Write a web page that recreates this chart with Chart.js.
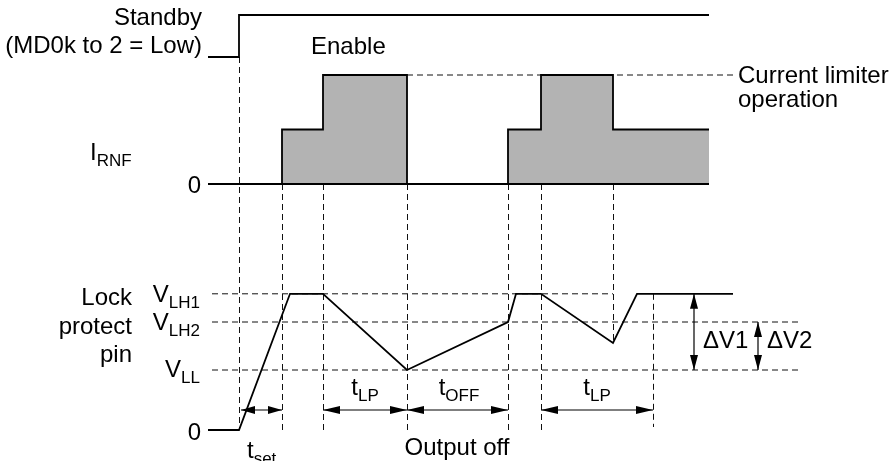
<!DOCTYPE html>
<html>
<head>
<meta charset="utf-8">
<script src="https://cdn.jsdelivr.net/npm/chart.js@4.4.0/dist/chart.umd.min.js"></script>
<style>
    html, body { margin: 0; padding: 0; background: #fff; }
    #wrap { width: 892px; height: 461px; }
</style>
</head>
<body>
<div id="wrap"><canvas id="timing" width="892" height="461"></canvas></div>
<script>
// Levels
const VLH1 = 2.27;
const VLH2 = 1.8;
const VLL = 1.0;
const I_STEP = 0.5;
const I_LIMIT = 1.0;

// Standby signal (time, level)
const standbyT = [-31, 0, 0, 470];
const standbyLevel = [0, 0, 1, 1];

// I_RNF current (stepped, value starts at its time)
const irnfT = [-31, 43, 84, 168, 269, 302, 374, 470];
const irnfLevel = [0, I_STEP, I_LIMIT, 0, I_STEP, I_LIMIT, I_STEP, I_STEP];

// Lock protect pin voltage
const lockT = [-31, 0, 51, 84, 168, 269, 277, 302, 374, 398, 494];
const lockV = [0, 0, VLH1, VLH1, VLL, VLH2, VLH1, VLH1, 1.45, VLH1, VLH1];

// Dashed reference levels on lock pin
const refLevels = [VLH1, VLH2, VLL];
const refStart = [-27, -27, -27];
const refEnd = [374, 559, 559];

// Current limiter dashed level
const limitT = [168, 496];

// Vertical guide lines: time, top [axis, value], bottom [axis, value]
const guideT = [0, 43, 84, 168, 269, 302, 374, 414];
const guideTop = [['ySb', 0], ['yI', 0], ['yI', 0], ['yI', 0], ['yI', 0], ['yI', 0], ['yI', 0], ['yV', VLH1]];
const guideBottom = [['yV', 0], ['yV', 0], ['yV', 0], ['yV', 0], ['yV', 0], ['yV', 0], ['yV', 1.45], ['yV', 0.05]];

// Time interval arrows
const spanFrom = [2, 84, 168, 302];
const spanTo = [43, 168, 269, 414];
const spanLevel = 0.333;

// Voltage difference arrows
const deltaT = [455, 519];
const deltaLow = [VLL, VLL];
const deltaHigh = [VLH1, VLH2];

const W = 892, H = 461;
const FONT = '"Liberation Sans", Arial, Helvetica, sans-serif';

function rowRange(zeroPx, pxPerUnit) {
    return { min: -(H - zeroPx) / pxPerUnit, max: zeroPx / pxPerUnit };
}

function pts(xs, ys) {
    return xs.map((x, i) => ({ x: x, y: ys[i] }));
}

const labels = [
    { text: 'Standby', t: -37, axis: 'ySb', v: 0.762, align: 'right' },
    { text: '(MD0k to 2 = Low)', t: -37, axis: 'ySb', v: 0.095, align: 'right' },
    { text: 'Enable', t: 72, axis: 'ySb', v: 0.071, align: 'left' },
    { text: 'Current limiter', t: 499, axis: 'yI', v: 0.927, align: 'left' },
    { text: 'operation', t: 499, axis: 'yI', v: 0.706, align: 'left' },
    { text: 'I', sub: 'RNF', t: -149, axis: 'yI', v: 0.22, align: 'left' },
    { text: '0', t: -38, axis: 'yI', v: -0.083, align: 'right' },
    { text: 'Lock', t: -107, axis: 'yV', v: 2.083, align: 'right' },
    { text: 'protect', t: -107, axis: 'yV', v: 1.6, align: 'right' },
    { text: 'pin', t: -107, axis: 'yV', v: 1.133, align: 'right' },
    { text: 'V', sub: 'LH1', t: -39, axis: 'yV', v: 2.133, align: 'right' },
    { text: 'V', sub: 'LH2', t: -39, axis: 'yV', v: 1.667, align: 'right' },
    { text: 'V', sub: 'LL', t: -39, axis: 'yV', v: 0.883, align: 'right' },
    { text: '0', t: -38, axis: 'yV', v: -0.167, align: 'right' },
    { text: 't', sub: 'set', t: 8, axis: 'yV', v: -0.467, align: 'left' },
    { text: 't', sub: 'LP', t: 126, axis: 'yV', v: 0.583, align: 'center' },
    { text: 't', sub: 'OFF', t: 220, axis: 'yV', v: 0.583, align: 'center' },
    { text: 't', sub: 'LP', t: 358, axis: 'yV', v: 0.583, align: 'center' },
    { text: 'Output off', t: 218, axis: 'yV', v: -0.417, align: 'center' },
    { text: '\u0394V1', t: 464, axis: 'yV', v: 1.367, align: 'left' },
    { text: '\u0394V2', t: 528, axis: 'yV', v: 1.367, align: 'left' }
];

function arrowHead(ctx, x, y, dx, dy, len, half) {
    ctx.beginPath();
    ctx.moveTo(x, y);
    ctx.lineTo(x - dx * len - dy * half, y - dy * len + dx * half);
    ctx.lineTo(x - dx * len + dy * half, y - dy * len - dx * half);
    ctx.closePath();
    ctx.fill();
}

const diagramPlugin = {
    id: 'diagram',
    beforeDatasetsDraw(chart) {
        const ctx = chart.ctx;
        const xs = chart.scales.x;
        ctx.save();
        ctx.strokeStyle = '#111';
        ctx.lineWidth = 1;
        ctx.setLineDash([6, 4]);
        guideT.forEach((t, i) => {
            const x = Math.round(xs.getPixelForValue(t)) + 0.5;
            const y0 = chart.scales[guideTop[i][0]].getPixelForValue(guideTop[i][1]);
            const y1 = chart.scales[guideBottom[i][0]].getPixelForValue(guideBottom[i][1]);
            ctx.beginPath();
            ctx.moveTo(x, y0);
            ctx.lineTo(x, y1);
            ctx.stroke();
        });
        ctx.restore();
    },
    afterDatasetsDraw(chart) {
        const ctx = chart.ctx;
        const xs = chart.scales.x;
        const yV = chart.scales.yV;
        ctx.save();
        ctx.strokeStyle = '#000';
        ctx.fillStyle = '#000';
        ctx.lineWidth = 1.2;

        // horizontal time arrows
        const ya = yV.getPixelForValue(spanLevel);
        spanFrom.forEach((t0, i) => {
            const x0 = xs.getPixelForValue(t0);
            const x1 = xs.getPixelForValue(spanTo[i]);
            const len = (x1 - x0) < 60 ? 14 : 17;
            ctx.beginPath();
            ctx.moveTo(x0, ya);
            ctx.lineTo(x1, ya);
            ctx.stroke();
            arrowHead(ctx, x0, ya, -1, 0, len, 4);
            arrowHead(ctx, x1, ya, 1, 0, len, 4);
        });

        // vertical delta arrows
        deltaT.forEach((t, i) => {
            const x = xs.getPixelForValue(t);
            const y0 = yV.getPixelForValue(deltaHigh[i]);
            const y1 = yV.getPixelForValue(deltaLow[i]);
            ctx.beginPath();
            ctx.moveTo(x, y0);
            ctx.lineTo(x, y1);
            ctx.stroke();
            arrowHead(ctx, x, y0, 0, -1, 15, 4);
            arrowHead(ctx, x, y1, 0, 1, 15, 4);
        });

        // text labels
        ctx.textBaseline = 'alphabetic';
        labels.forEach(l => {
            const px = xs.getPixelForValue(l.t);
            const py = chart.scales[l.axis].getPixelForValue(l.v);
            ctx.font = '24px ' + FONT;
            const wMain = ctx.measureText(l.text).width;
            let wSub = 0;
            if (l.sub) {
                ctx.font = '17px ' + FONT;
                wSub = ctx.measureText(l.sub).width;
            }
            const total = wMain + wSub;
            let x0 = px;
            if (l.align === 'right') x0 = px - total;
            else if (l.align === 'center') x0 = px - total / 2;
            ctx.textAlign = 'left';
            ctx.font = '24px ' + FONT;
            ctx.fillText(l.text, x0, py);
            if (l.sub) {
                ctx.font = '17px ' + FONT;
                ctx.fillText(l.sub, x0 + wMain, py + 6);
            }
        });
        ctx.restore();
    }
};

const solid = { borderColor: '#000', borderWidth: 1.8, pointRadius: 0, showLine: true, fill: false };
const dashed = { borderColor: '#111', borderWidth: 1, borderDash: [6, 4], pointRadius: 0, showLine: true, fill: false };

const datasets = [
    Object.assign({}, solid, { label: 'Standby', data: pts(standbyT, standbyLevel), yAxisID: 'ySb', order: 1 }),
    Object.assign({}, solid, {
        label: 'I_RNF', data: pts(irnfT, irnfLevel), yAxisID: 'yI', stepped: 'before',
        fill: 'origin', backgroundColor: '#b3b3b3', order: 2
    }),
    Object.assign({}, solid, { label: 'I zero', data: pts([irnfT[0], irnfT[irnfT.length - 1]], [0, 0]), yAxisID: 'yI', order: 1 }),
    Object.assign({}, dashed, { label: 'Limit', data: pts(limitT, [I_LIMIT, I_LIMIT]), yAxisID: 'yI', order: 5 }),
    Object.assign({}, solid, { label: 'Lock pin', data: pts(lockT, lockV), yAxisID: 'yV', order: 1 })
];
refLevels.forEach((v, i) => {
    datasets.push(Object.assign({}, dashed, {
        label: 'ref' + i, data: pts([refStart[i], refEnd[i]], [v, v]), yAxisID: 'yV', order: 5
    }));
});

const sbRange = rowRange(57, 42);
const iRange = rowRange(184, 109);
const vRange = rowRange(430, 60);

new Chart(document.getElementById('timing').getContext('2d'), {
    type: 'scatter',
    data: { datasets: datasets },
    options: {
        responsive: false,
        animation: false,
        layout: { padding: 0 },
        plugins: { legend: { display: false }, tooltip: { enabled: false } },
        scales: {
            x: { type: 'linear', display: false, min: -239, max: 653 },
            ySb: { type: 'linear', display: false, min: sbRange.min, max: sbRange.max },
            yI: { type: 'linear', display: false, min: iRange.min, max: iRange.max },
            yV: { type: 'linear', display: false, min: vRange.min, max: vRange.max }
        }
    },
    plugins: [diagramPlugin]
});
</script>
</body>
</html>
